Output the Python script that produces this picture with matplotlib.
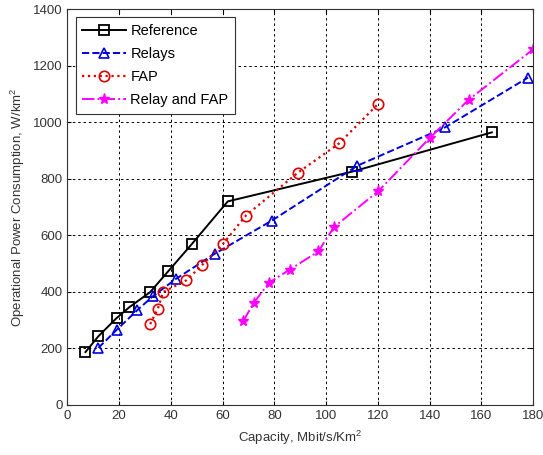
import matplotlib
matplotlib.use("Agg")
import matplotlib.pyplot as plt

plt.rcParams['font.family'] = ['Liberation Sans', 'DejaVu Sans']
plt.rcParams['mathtext.fontset'] = 'custom'
plt.rcParams['mathtext.rm'] = 'Liberation Sans'

ref_x = [7, 12, 19, 24, 32, 39, 48, 62, 110, 164]
ref_y = [187, 243, 307, 346, 399, 473, 568, 720, 825, 964]
relay_x = [12, 19, 27, 33, 42, 57, 79, 112, 146, 178]
relay_y = [202, 265, 335, 384, 446, 535, 652, 846, 982, 1158]
fap_x = [32, 35, 37, 46, 52, 60, 69, 89, 105, 120]
fap_y = [286, 341, 399, 441, 494, 568, 670, 821, 925, 1064]
rf_x = [68, 72, 78, 86, 97, 103, 120, 140, 155, 180]
rf_y = [297, 361, 433, 479, 543, 629, 755, 944, 1079, 1258]

labels = ['Reference', 'Relays', 'FAP', 'Relay and FAP']
xticks = list(range(0, 181, 20))
yticks = list(range(0, 1401, 200))

fig = plt.figure(figsize=(5.43, 4.55), dpi=100)
ax = fig.add_axes([0.124, 0.110, 0.858, 0.870])

ax.plot(ref_x, ref_y, color='black', linestyle='-', linewidth=1.4,
        marker='s', markersize=6.5, markerfacecolor='none', markeredgewidth=1.3, label=labels[0])
ax.plot(relay_x, relay_y, color='#0000dd', linestyle='--', linewidth=1.4,
        marker='^', markersize=7.5, markerfacecolor='none', markeredgewidth=1.2, label=labels[1])
ax.plot(fap_x, fap_y, color='#dd0000', linestyle=':', linewidth=1.6,
        marker='o', markersize=7.5, markerfacecolor='none', markeredgewidth=1.2, label=labels[2])
ax.plot(rf_x, rf_y, color='#ff00ff', linestyle='-.', linewidth=1.4,
        marker='*', markersize=8, markerfacecolor='#ff00ff', markeredgewidth=1.0, label=labels[3])

ax.set_xlim(0, 180)
ax.set_ylim(0, 1400)
ax.set_xticks(xticks)
ax.set_yticks(yticks)
ax.tick_params(direction='in', labelsize=9.5, labelcolor='#333333', length=3,
               top=True, right=True)
ax.grid(True, color='black', linestyle=(0, (2.5, 3)), linewidth=0.7)
for s in ax.spines.values():
    s.set_color('#333333')

ax.set_xlabel('Capacity, Mbit/s/Km$^2$', fontsize=9.5, color='#333333', labelpad=5)
ax.set_ylabel('Operational Power Consumption, W/km$^2$', fontsize=9.5, color='#333333', labelpad=4)

leg = ax.legend(loc='upper left', bbox_to_anchor=(0.018, 0.979), fontsize=10.5,
                fancybox=False, framealpha=1, edgecolor='#333333',
                handlelength=3.0, borderpad=0.45, labelspacing=0.62, handletextpad=0.3,
                borderaxespad=0)
leg.get_frame().set_linewidth(0.8)

fig.savefig('out.png', dpi=100)
